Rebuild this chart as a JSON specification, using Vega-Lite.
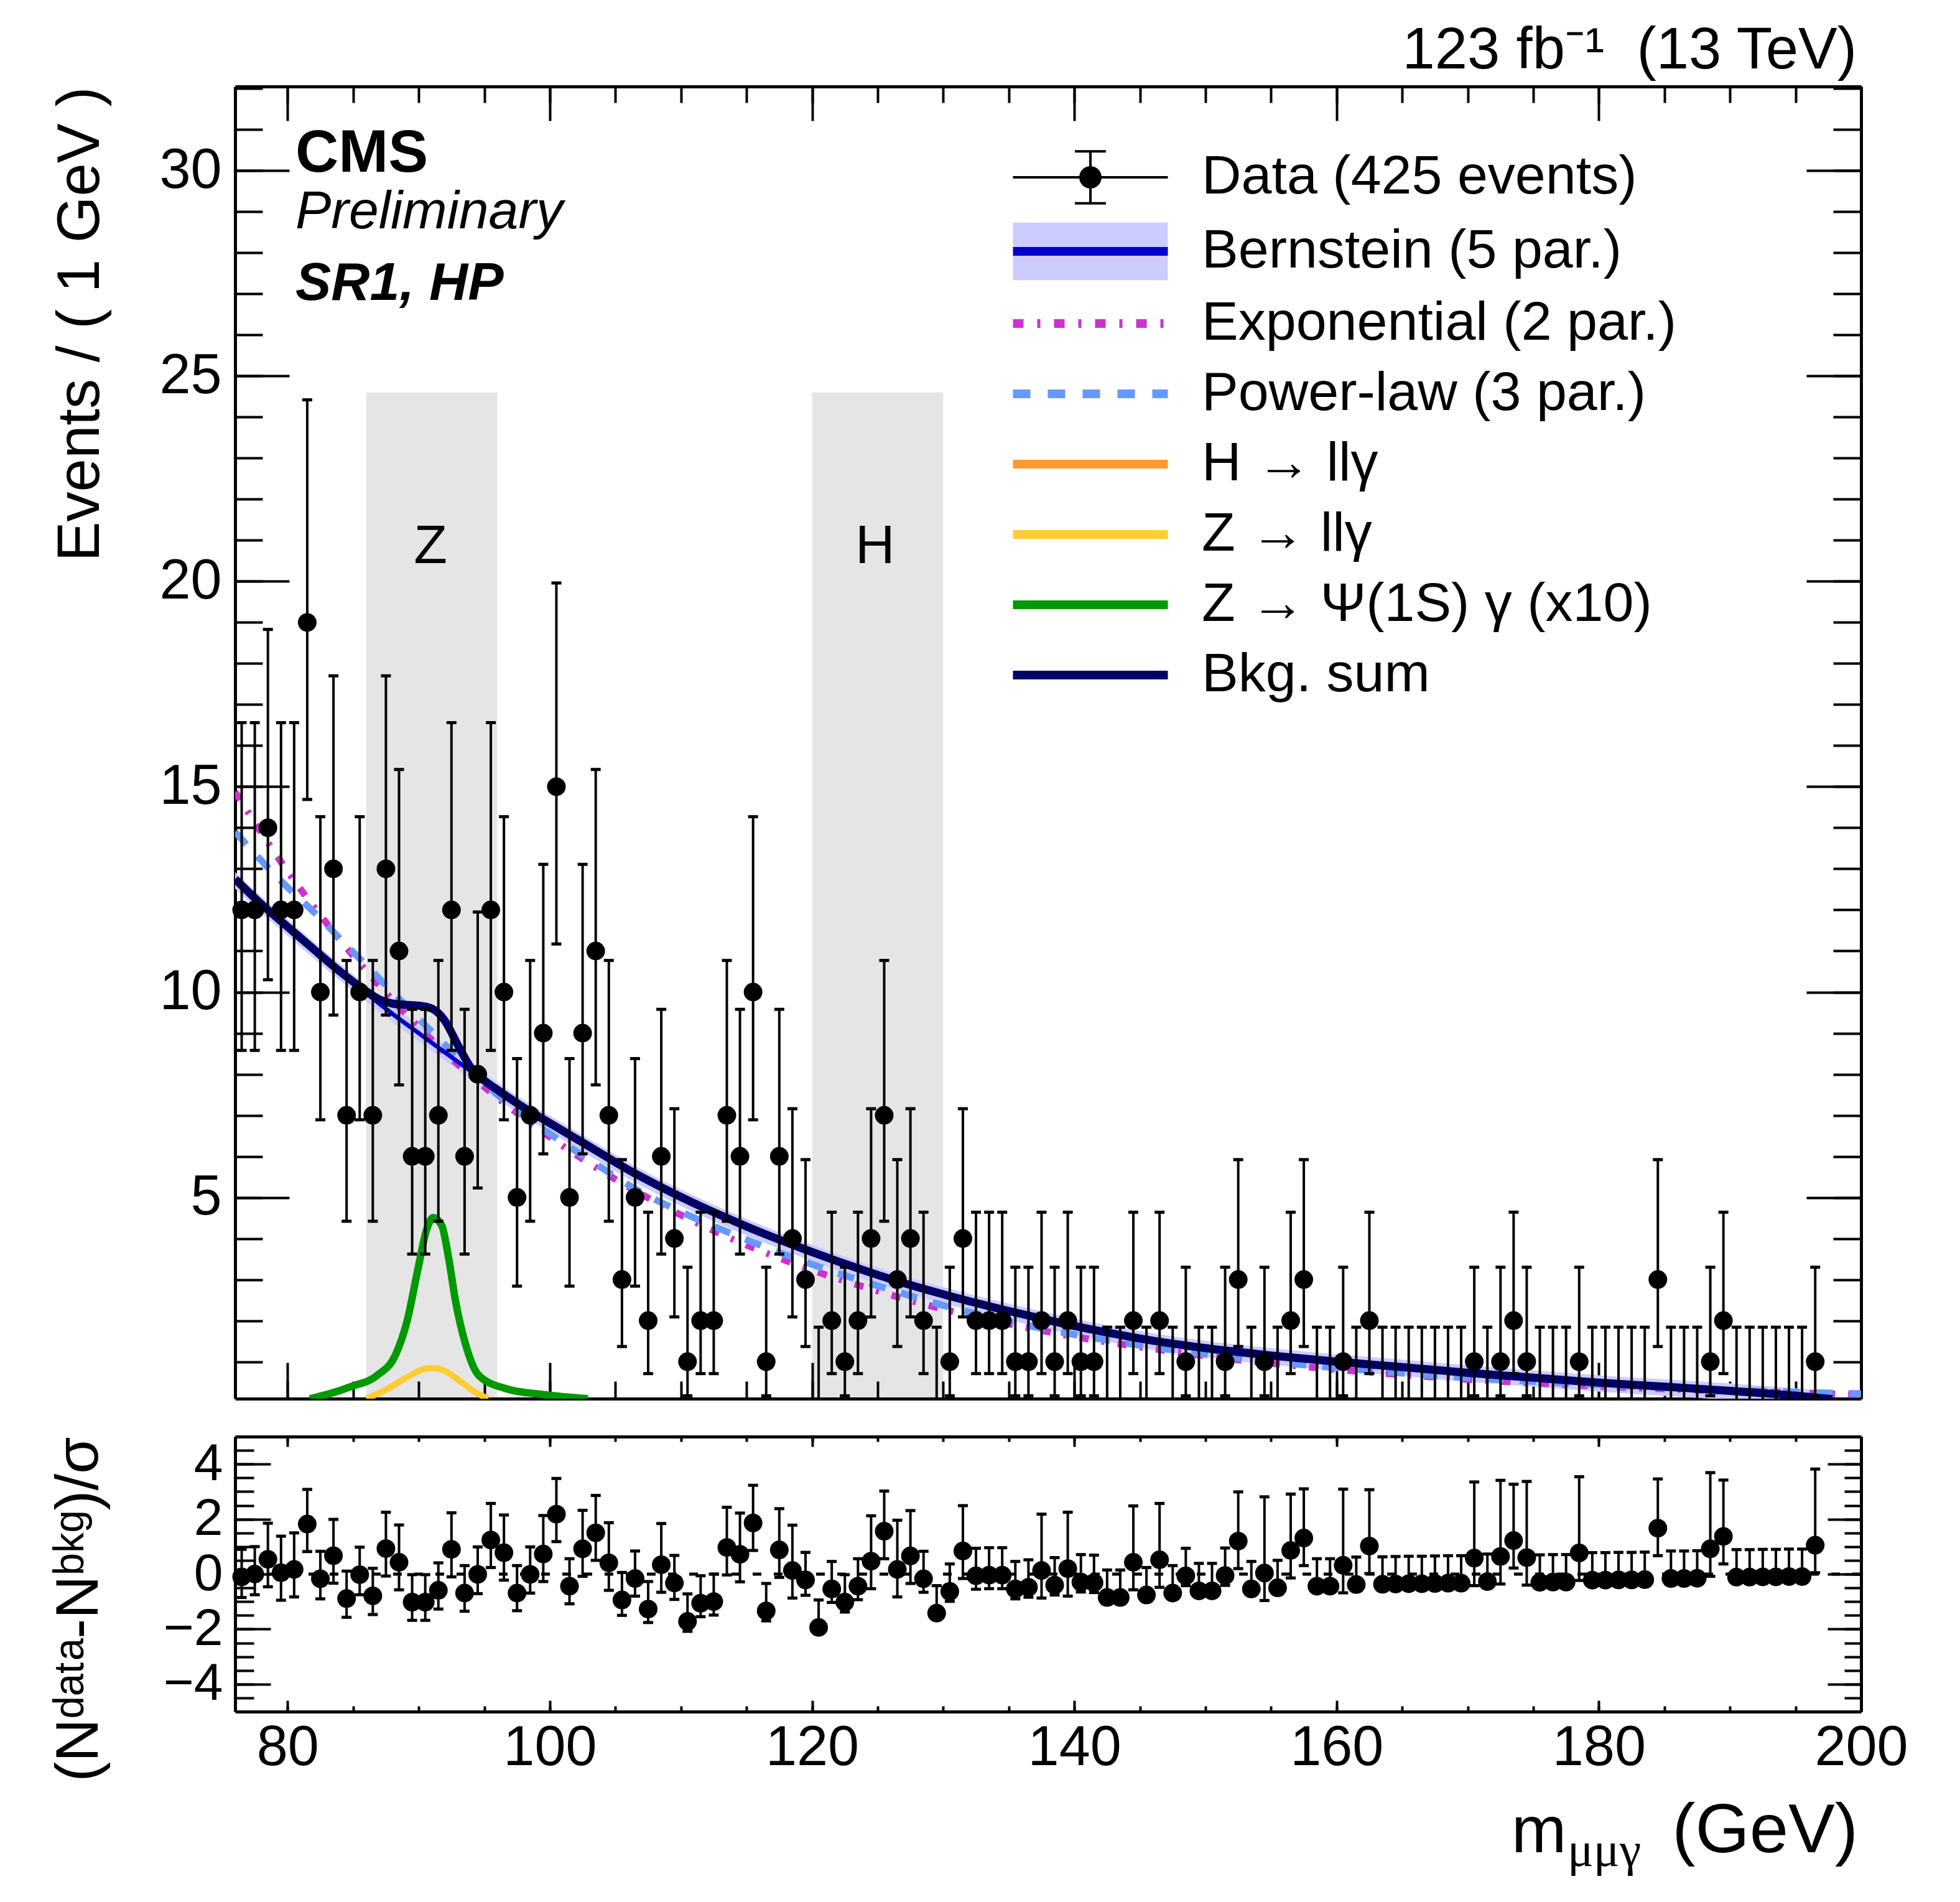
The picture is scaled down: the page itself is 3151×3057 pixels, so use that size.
{
  "$schema": "https://vega.github.io/schema/vega-lite/v6.json",
  "background": "white",
  "padding": {"left": 79, "top": 35, "right": 0, "bottom": 0},
  "autosize": {"type": "pad"},
  "spacing": 61,
  "bounds": "flush",
  "config": {
    "view": {"stroke": null},
    "axis": {"grid": false, "labelFont": "Liberation Sans", "titleFont": "Liberation Sans", "labelColor": "black", "titleColor": "black", "tickColor": "black", "domainColor": "black", "tickWidth": 4, "domainWidth": 5, "labelFontSize": 90, "titleFontSize": 96, "titleFontWeight": "normal", "labelFlush": false, "labelOverlap": false},
    "text": {"font": "Liberation Sans", "color": "black"}
  },
  "resolve": {"scale": {"color": "independent"}, "legend": {"color": "independent"}},
  "datasets": {
    "one": [{}],
    "windows": [
      {"x1": 86, "x2": 96, "xc": 90.9, "label": "Z"},
      {"x1": 120, "x2": 130, "xc": 124.8, "label": "H"}
    ],
    "bins": [
      {"x":76.5,"n":12,"lo":8.58,"hi":16.56,"p":-0.1,"plo":-0.85,"phi":0.9},
      {"x":77.5,"n":12,"lo":8.58,"hi":16.56,"p":0,"plo":-0.75,"phi":1},
      {"x":78.5,"n":14,"lo":10.3,"hi":18.83,"p":0.54,"plo":-0.46,"phi":1.85},
      {"x":79.5,"n":12,"lo":8.58,"hi":16.56,"p":0.05,"plo":-0.95,"phi":1.38},
      {"x":80.5,"n":12,"lo":8.58,"hi":16.56,"p":0.17,"plo":-0.83,"phi":1.5},
      {"x":81.5,"n":19,"lo":14.69,"hi":24.42,"p":1.82,"plo":0.82,"phi":3.08},
      {"x":82.5,"n":10,"lo":6.89,"hi":14.27,"p":-0.17,"plo":-0.9,"phi":0.83},
      {"x":83.5,"n":13,"lo":9.44,"hi":17.7,"p":0.67,"plo":-0.33,"phi":1.99},
      {"x":84.5,"n":7,"lo":4.42,"hi":10.77,"p":-0.89,"plo":-1.57,"phi":0.11},
      {"x":85.5,"n":10,"lo":6.89,"hi":14.27,"p":-0.02,"plo":-0.75,"phi":0.98},
      {"x":86.5,"n":7,"lo":4.42,"hi":10.77,"p":-0.79,"plo":-1.47,"phi":0.21},
      {"x":87.5,"n":13,"lo":9.44,"hi":17.7,"p":0.93,"plo":-0.07,"phi":2.25},
      {"x":88.5,"n":11,"lo":7.74,"hi":15.42,"p":0.43,"plo":-0.57,"phi":1.79},
      {"x":89.5,"n":6,"lo":3.62,"hi":9.58,"p":-1.02,"plo":-1.68,"phi":-0.02},
      {"x":90.5,"n":6,"lo":3.62,"hi":9.58,"p":-1.02,"plo":-1.68,"phi":-0.02},
      {"x":91.5,"n":7,"lo":4.42,"hi":10.77,"p":-0.59,"plo":-1.27,"phi":0.41},
      {"x":92.5,"n":12,"lo":8.58,"hi":16.56,"p":0.9,"plo":-0.1,"phi":2.23},
      {"x":93.5,"n":6,"lo":3.62,"hi":9.58,"p":-0.69,"plo":-1.35,"phi":0.31},
      {"x":94.5,"n":8,"lo":5.23,"hi":11.95,"p":-0.01,"plo":-0.71,"phi":0.99},
      {"x":95.5,"n":12,"lo":8.58,"hi":16.56,"p":1.24,"plo":0.24,"phi":2.57},
      {"x":96.5,"n":10,"lo":6.89,"hi":14.27,"p":0.78,"plo":-0.22,"phi":2.15},
      {"x":97.5,"n":5,"lo":2.84,"hi":8.38,"p":-0.69,"plo":-1.33,"phi":0.31},
      {"x":98.5,"n":7,"lo":4.42,"hi":10.77,"p":-0.01,"plo":-0.69,"phi":0.99},
      {"x":99.5,"n":9,"lo":6.06,"hi":13.11,"p":0.73,"plo":-0.27,"phi":2.13},
      {"x":100.5,"n":15,"lo":11.17,"hi":19.96,"p":2.18,"plo":1.18,"phi":3.48},
      {"x":101.5,"n":5,"lo":2.84,"hi":8.38,"p":-0.44,"plo":-1.08,"phi":0.56},
      {"x":102.5,"n":9,"lo":6.06,"hi":13.11,"p":0.92,"plo":-0.08,"phi":2.32},
      {"x":103.5,"n":11,"lo":7.74,"hi":15.42,"p":1.5,"plo":0.5,"phi":2.86},
      {"x":104.5,"n":7,"lo":4.42,"hi":10.77,"p":0.41,"plo":-0.59,"phi":1.87},
      {"x":105.5,"n":3,"lo":1.37,"hi":5.92,"p":-0.94,"plo":-1.5,"phi":0.06},
      {"x":106.5,"n":5,"lo":2.84,"hi":8.38,"p":-0.16,"plo":-0.8,"phi":0.84},
      {"x":107.5,"n":2,"lo":0.71,"hi":4.64,"p":-1.27,"plo":-1.76,"phi":-0.27},
      {"x":108.5,"n":6,"lo":3.62,"hi":9.58,"p":0.34,"plo":-0.66,"phi":1.84},
      {"x":109.5,"n":4,"lo":2.09,"hi":7.16,"p":-0.32,"plo":-0.92,"phi":0.68},
      {"x":110.5,"n":1,"lo":0.17,"hi":3.3,"p":-1.72,"plo":-2.08,"phi":-0.72},
      {"x":111.5,"n":2,"lo":0.71,"hi":4.64,"p":-1.06,"plo":-1.55,"phi":-0.06},
      {"x":112.5,"n":2,"lo":0.71,"hi":4.64,"p":-1,"plo":-1.49,"phi":0},
      {"x":113.5,"n":7,"lo":4.42,"hi":10.77,"p":0.97,"plo":-0.03,"phi":2.43},
      {"x":114.5,"n":6,"lo":3.62,"hi":9.58,"p":0.72,"plo":-0.28,"phi":2.22},
      {"x":115.5,"n":10,"lo":6.89,"hi":14.27,"p":1.86,"plo":0.86,"phi":3.23},
      {"x":116.5,"n":1,"lo":0.17,"hi":3.3,"p":-1.34,"plo":-1.7,"phi":-0.34},
      {"x":117.5,"n":6,"lo":3.62,"hi":9.58,"p":0.88,"plo":-0.12,"phi":2.38},
      {"x":118.5,"n":4,"lo":2.09,"hi":7.16,"p":0.13,"plo":-0.87,"phi":1.78},
      {"x":119.5,"n":3,"lo":1.37,"hi":5.92,"p":-0.21,"plo":-0.77,"phi":0.79},
      {"x":120.5,"n":0,"lo":0,"hi":1.84,"p":-1.94,"plo":-1.94,"phi":-0.94},
      {"x":121.5,"n":2,"lo":0.71,"hi":4.64,"p":-0.54,"plo":-1.03,"phi":0.46},
      {"x":122.5,"n":1,"lo":0.17,"hi":3.3,"p":-1.02,"plo":-1.38,"phi":-0.02},
      {"x":123.5,"n":2,"lo":0.71,"hi":4.64,"p":-0.44,"plo":-0.93,"phi":0.56},
      {"x":124.5,"n":4,"lo":2.09,"hi":7.16,"p":0.47,"plo":-0.53,"phi":2.12},
      {"x":125.5,"n":7,"lo":4.42,"hi":10.77,"p":1.56,"plo":0.56,"phi":3.02},
      {"x":126.5,"n":3,"lo":1.37,"hi":5.92,"p":0.17,"plo":-0.83,"phi":1.96},
      {"x":127.5,"n":4,"lo":2.09,"hi":7.16,"p":0.66,"plo":-0.34,"phi":2.31},
      {"x":128.5,"n":2,"lo":0.71,"hi":4.64,"p":-0.17,"plo":-0.66,"phi":0.83},
      {"x":129.5,"n":0,"lo":0,"hi":1.84,"p":-1.42,"plo":-1.42,"phi":-0.42},
      {"x":130.5,"n":1,"lo":0.17,"hi":3.3,"p":-0.63,"plo":-0.99,"phi":0.37},
      {"x":131.5,"n":4,"lo":2.09,"hi":7.16,"p":0.84,"plo":-0.16,"phi":2.49},
      {"x":132.5,"n":2,"lo":0.71,"hi":4.64,"p":-0.06,"plo":-0.55,"phi":0.94},
      {"x":133.5,"n":2,"lo":0.71,"hi":4.64,"p":-0.04,"plo":-0.53,"phi":0.96},
      {"x":134.5,"n":2,"lo":0.71,"hi":4.64,"p":-0.04,"plo":-0.53,"phi":0.96},
      {"x":135.5,"n":1,"lo":0.17,"hi":3.3,"p":-0.54,"plo":-0.9,"phi":0.46},
      {"x":136.5,"n":1,"lo":0.17,"hi":3.3,"p":-0.48,"plo":-0.84,"phi":0.52},
      {"x":137.5,"n":2,"lo":0.71,"hi":4.64,"p":0.13,"plo":-0.87,"phi":2.18},
      {"x":138.5,"n":1,"lo":0.17,"hi":3.3,"p":-0.4,"plo":-0.76,"phi":0.6},
      {"x":139.5,"n":2,"lo":0.71,"hi":4.64,"p":0.2,"plo":-0.8,"phi":2.25},
      {"x":140.5,"n":1,"lo":0.17,"hi":3.3,"p":-0.29,"plo":-0.65,"phi":0.71},
      {"x":141.5,"n":1,"lo":0.17,"hi":3.3,"p":-0.31,"plo":-0.67,"phi":0.69},
      {"x":142.5,"n":0,"lo":0,"hi":1.84,"p":-0.85,"plo":-0.85,"phi":0.15},
      {"x":143.5,"n":0,"lo":0,"hi":1.84,"p":-0.85,"plo":-0.85,"phi":0.15},
      {"x":144.5,"n":2,"lo":0.71,"hi":4.64,"p":0.43,"plo":-0.57,"phi":2.48},
      {"x":145.5,"n":0,"lo":0,"hi":1.84,"p":-0.76,"plo":-0.76,"phi":0.24},
      {"x":146.5,"n":2,"lo":0.71,"hi":4.64,"p":0.52,"plo":-0.48,"phi":2.57},
      {"x":147.5,"n":0,"lo":0,"hi":1.84,"p":-0.69,"plo":-0.69,"phi":0.31},
      {"x":148.5,"n":1,"lo":0.17,"hi":3.3,"p":-0.06,"plo":-0.42,"phi":0.94},
      {"x":149.5,"n":0,"lo":0,"hi":1.84,"p":-0.61,"plo":-0.61,"phi":0.39},
      {"x":150.5,"n":0,"lo":0,"hi":1.84,"p":-0.61,"plo":-0.61,"phi":0.39},
      {"x":151.5,"n":1,"lo":0.17,"hi":3.3,"p":-0.05,"plo":-0.41,"phi":0.95},
      {"x":152.5,"n":3,"lo":1.37,"hi":5.92,"p":1.2,"plo":0.2,"phi":2.99},
      {"x":153.5,"n":0,"lo":0,"hi":1.84,"p":-0.54,"plo":-0.54,"phi":0.46},
      {"x":154.5,"n":1,"lo":0.17,"hi":3.3,"p":0.04,"plo":-0.96,"phi":2.81},
      {"x":155.5,"n":0,"lo":0,"hi":1.84,"p":-0.5,"plo":-0.5,"phi":0.5},
      {"x":156.5,"n":2,"lo":0.71,"hi":4.64,"p":0.86,"plo":-0.14,"phi":2.91},
      {"x":157.5,"n":3,"lo":1.37,"hi":5.92,"p":1.31,"plo":0.31,"phi":3.1},
      {"x":158.5,"n":0,"lo":0,"hi":1.84,"p":-0.44,"plo":-0.44,"phi":0.56},
      {"x":159.5,"n":0,"lo":0,"hi":1.84,"p":-0.44,"plo":-0.44,"phi":0.56},
      {"x":160.5,"n":1,"lo":0.17,"hi":3.3,"p":0.32,"plo":-0.68,"phi":3.09},
      {"x":161.5,"n":0,"lo":0,"hi":1.84,"p":-0.38,"plo":-0.38,"phi":0.62},
      {"x":162.5,"n":2,"lo":0.71,"hi":4.64,"p":1.02,"plo":0.02,"phi":3.07},
      {"x":163.5,"n":0,"lo":0,"hi":1.84,"p":-0.37,"plo":-0.37,"phi":0.63},
      {"x":164.5,"n":0,"lo":0,"hi":1.84,"p":-0.36,"plo":-0.36,"phi":0.64},
      {"x":165.5,"n":0,"lo":0,"hi":1.84,"p":-0.35,"plo":-0.35,"phi":0.65},
      {"x":166.5,"n":0,"lo":0,"hi":1.84,"p":-0.35,"plo":-0.35,"phi":0.65},
      {"x":167.5,"n":0,"lo":0,"hi":1.84,"p":-0.34,"plo":-0.34,"phi":0.66},
      {"x":168.5,"n":0,"lo":0,"hi":1.84,"p":-0.33,"plo":-0.33,"phi":0.67},
      {"x":169.5,"n":0,"lo":0,"hi":1.84,"p":-0.33,"plo":-0.33,"phi":0.67},
      {"x":170.5,"n":1,"lo":0.17,"hi":3.3,"p":0.58,"plo":-0.42,"phi":3.35},
      {"x":171.5,"n":0,"lo":0,"hi":1.84,"p":-0.27,"plo":-0.27,"phi":0.73},
      {"x":172.5,"n":1,"lo":0.17,"hi":3.3,"p":0.64,"plo":-0.36,"phi":3.41},
      {"x":173.5,"n":2,"lo":0.71,"hi":4.64,"p":1.22,"plo":0.22,"phi":3.27},
      {"x":174.5,"n":1,"lo":0.17,"hi":3.3,"p":0.6,"plo":-0.4,"phi":3.37},
      {"x":175.5,"n":0,"lo":0,"hi":1.84,"p":-0.3,"plo":-0.3,"phi":0.7},
      {"x":176.5,"n":0,"lo":0,"hi":1.84,"p":-0.29,"plo":-0.29,"phi":0.71},
      {"x":177.5,"n":0,"lo":0,"hi":1.84,"p":-0.29,"plo":-0.29,"phi":0.71},
      {"x":178.5,"n":1,"lo":0.17,"hi":3.3,"p":0.77,"plo":-0.23,"phi":3.54},
      {"x":179.5,"n":0,"lo":0,"hi":1.84,"p":-0.22,"plo":-0.22,"phi":0.78},
      {"x":180.5,"n":0,"lo":0,"hi":1.84,"p":-0.22,"plo":-0.22,"phi":0.78},
      {"x":181.5,"n":0,"lo":0,"hi":1.84,"p":-0.21,"plo":-0.21,"phi":0.79},
      {"x":182.5,"n":0,"lo":0,"hi":1.84,"p":-0.21,"plo":-0.21,"phi":0.79},
      {"x":183.5,"n":0,"lo":0,"hi":1.84,"p":-0.2,"plo":-0.2,"phi":0.8},
      {"x":184.5,"n":3,"lo":1.37,"hi":5.92,"p":1.67,"plo":0.67,"phi":3.46},
      {"x":185.5,"n":0,"lo":0,"hi":1.84,"p":-0.16,"plo":-0.16,"phi":0.84},
      {"x":186.5,"n":0,"lo":0,"hi":1.84,"p":-0.16,"plo":-0.16,"phi":0.84},
      {"x":187.5,"n":0,"lo":0,"hi":1.84,"p":-0.15,"plo":-0.15,"phi":0.85},
      {"x":188.5,"n":1,"lo":0.17,"hi":3.3,"p":0.92,"plo":-0.08,"phi":3.69},
      {"x":189.5,"n":2,"lo":0.71,"hi":4.64,"p":1.37,"plo":0.37,"phi":3.42},
      {"x":190.5,"n":0,"lo":0,"hi":1.84,"p":-0.11,"plo":-0.11,"phi":0.89},
      {"x":191.5,"n":0,"lo":0,"hi":1.84,"p":-0.11,"plo":-0.11,"phi":0.89},
      {"x":192.5,"n":0,"lo":0,"hi":1.84,"p":-0.1,"plo":-0.1,"phi":0.9},
      {"x":193.5,"n":0,"lo":0,"hi":1.84,"p":-0.1,"plo":-0.1,"phi":0.9},
      {"x":194.5,"n":0,"lo":0,"hi":1.84,"p":-0.09,"plo":-0.09,"phi":0.91},
      {"x":195.5,"n":0,"lo":0,"hi":1.84,"p":-0.09,"plo":-0.09,"phi":0.91},
      {"x":196.5,"n":1,"lo":0.17,"hi":3.3,"p":1.05,"plo":0.05,"phi":3.82}
    ],
    "band": [
      {"x":76,"lo":12.52,"hi":12.92},{"x":78,"lo":11.92,"hi":12.32},{"x":80,"lo":11.37,"hi":11.77},{"x":82,"lo":10.82,"hi":11.22},
      {"x":84,"lo":10.28,"hi":10.68},{"x":86,"lo":9.77,"hi":10.17},{"x":88,"lo":9.27,"hi":9.67},{"x":90,"lo":8.8,"hi":9.2},
      {"x":92,"lo":8.33,"hi":8.73},{"x":94,"lo":7.87,"hi":8.27},{"x":96,"lo":7.4,"hi":7.8},{"x":98,"lo":6.97,"hi":7.37},
      {"x":100,"lo":6.59,"hi":6.99},{"x":102,"lo":6.21,"hi":6.61},{"x":104,"lo":5.83,"hi":6.23},{"x":106,"lo":5.45,"hi":5.85},
      {"x":108,"lo":5.11,"hi":5.51},{"x":110,"lo":4.79,"hi":5.19},{"x":112,"lo":4.49,"hi":4.89},{"x":114,"lo":4.21,"hi":4.61},
      {"x":116,"lo":3.94,"hi":4.34},{"x":118,"lo":3.69,"hi":4.09},{"x":120,"lo":3.45,"hi":3.85},{"x":122,"lo":3.22,"hi":3.62},
      {"x":124,"lo":3.0,"hi":3.4},{"x":126,"lo":2.79,"hi":3.19},{"x":128,"lo":2.6,"hi":3.0},{"x":130,"lo":2.42,"hi":2.82},
      {"x":132,"lo":2.25,"hi":2.65},{"x":134,"lo":2.09,"hi":2.49},{"x":136,"lo":1.94,"hi":2.34},{"x":138,"lo":1.79,"hi":2.19},
      {"x":140,"lo":1.65,"hi":2.05},{"x":143,"lo":1.46,"hi":1.86},{"x":146,"lo":1.29,"hi":1.69},{"x":150,"lo":1.11,"hi":1.51},
      {"x":155,"lo":0.93,"hi":1.33},{"x":160,"lo":0.78,"hi":1.18},{"x":165,"lo":0.65,"hi":1.05},{"x":170,"lo":0.51,"hi":0.91},
      {"x":175,"lo":0.39,"hi":0.79},{"x":180,"lo":0.27,"hi":0.67},{"x":185,"lo":0.17,"hi":0.57},{"x":190,"lo":0.07,"hi":0.47},
      {"x":194,"lo":0.0,"hi":0.38},{"x":197.8,"lo":0.0,"hi":0.27}
    ],
    "curves": [
      {"s":"Exponential (2 par.)","x":76,"y":14.87},{"s":"Exponential (2 par.)","x":80,"y":12.94},{"s":"Exponential (2 par.)","x":84,"y":11.27},
      {"s":"Exponential (2 par.)","x":88,"y":9.81},{"s":"Exponential (2 par.)","x":92,"y":8.53},{"s":"Exponential (2 par.)","x":96,"y":7.43},
      {"s":"Exponential (2 par.)","x":100,"y":6.47},{"s":"Exponential (2 par.)","x":105,"y":5.44},{"s":"Exponential (2 par.)","x":110,"y":4.57},
      {"s":"Exponential (2 par.)","x":115,"y":3.84},{"s":"Exponential (2 par.)","x":120,"y":3.23},{"s":"Exponential (2 par.)","x":125,"y":2.72},
      {"s":"Exponential (2 par.)","x":130,"y":2.28},{"s":"Exponential (2 par.)","x":135,"y":1.92},{"s":"Exponential (2 par.)","x":140,"y":1.61},
      {"s":"Exponential (2 par.)","x":145,"y":1.36},{"s":"Exponential (2 par.)","x":150,"y":1.14},{"s":"Exponential (2 par.)","x":155,"y":0.96},
      {"s":"Exponential (2 par.)","x":160,"y":0.81},{"s":"Exponential (2 par.)","x":165,"y":0.68},{"s":"Exponential (2 par.)","x":170,"y":0.57},
      {"s":"Exponential (2 par.)","x":175,"y":0.48},{"s":"Exponential (2 par.)","x":180,"y":0.4},{"s":"Exponential (2 par.)","x":185,"y":0.34},
      {"s":"Exponential (2 par.)","x":190,"y":0.285},{"s":"Exponential (2 par.)","x":195,"y":0.24},{"s":"Exponential (2 par.)","x":200,"y":0.2},
      {"s":"Power-law (3 par.)","x":76,"y":13.9},{"s":"Power-law (3 par.)","x":78,"y":13.2},{"s":"Power-law (3 par.)","x":80,"y":12.55},
      {"s":"Power-law (3 par.)","x":82,"y":11.95},{"s":"Power-law (3 par.)","x":84,"y":11.3},{"s":"Power-law (3 par.)","x":86,"y":10.65},
      {"s":"Power-law (3 par.)","x":88,"y":10.0},{"s":"Power-law (3 par.)","x":90,"y":9.35},{"s":"Power-law (3 par.)","x":92,"y":8.72},
      {"s":"Power-law (3 par.)","x":94,"y":8.1},{"s":"Power-law (3 par.)","x":96,"y":7.5},{"s":"Power-law (3 par.)","x":100,"y":6.55},
      {"s":"Power-law (3 par.)","x":103,"y":5.92},{"s":"Power-law (3 par.)","x":107,"y":5.12},{"s":"Power-law (3 par.)","x":110,"y":4.65},
      {"s":"Power-law (3 par.)","x":114,"y":4.1},{"s":"Power-law (3 par.)","x":118,"y":3.6},{"s":"Power-law (3 par.)","x":122,"y":3.15},
      {"s":"Power-law (3 par.)","x":126,"y":2.75},{"s":"Power-law (3 par.)","x":130,"y":2.37},{"s":"Power-law (3 par.)","x":135,"y":1.98},
      {"s":"Power-law (3 par.)","x":140,"y":1.66},{"s":"Power-law (3 par.)","x":145,"y":1.4},{"s":"Power-law (3 par.)","x":150,"y":1.18},
      {"s":"Power-law (3 par.)","x":155,"y":1.0},{"s":"Power-law (3 par.)","x":160,"y":0.85},{"s":"Power-law (3 par.)","x":165,"y":0.72},
      {"s":"Power-law (3 par.)","x":170,"y":0.61},{"s":"Power-law (3 par.)","x":175,"y":0.52},{"s":"Power-law (3 par.)","x":180,"y":0.44},
      {"s":"Power-law (3 par.)","x":185,"y":0.37},{"s":"Power-law (3 par.)","x":190,"y":0.31},{"s":"Power-law (3 par.)","x":195,"y":0.26},
      {"s":"Power-law (3 par.)","x":200,"y":0.22},
      {"s":"Bernstein (5 par.)","x":76,"y":12.72},{"s":"Bernstein (5 par.)","x":78,"y":12.12},{"s":"Bernstein (5 par.)","x":80,"y":11.57},
      {"s":"Bernstein (5 par.)","x":82,"y":11.02},{"s":"Bernstein (5 par.)","x":84,"y":10.48},{"s":"Bernstein (5 par.)","x":86,"y":9.97},
      {"s":"Bernstein (5 par.)","x":88,"y":9.47},{"s":"Bernstein (5 par.)","x":90,"y":9.0},{"s":"Bernstein (5 par.)","x":92,"y":8.53},
      {"s":"Bernstein (5 par.)","x":94,"y":8.07},{"s":"Bernstein (5 par.)","x":96,"y":7.6},{"s":"Bernstein (5 par.)","x":98,"y":7.17},
      {"s":"Bernstein (5 par.)","x":100,"y":6.79},{"s":"Bernstein (5 par.)","x":102,"y":6.41},{"s":"Bernstein (5 par.)","x":104,"y":6.03},
      {"s":"Bernstein (5 par.)","x":106,"y":5.65},{"s":"Bernstein (5 par.)","x":108,"y":5.31},{"s":"Bernstein (5 par.)","x":110,"y":4.99},
      {"s":"Bernstein (5 par.)","x":112,"y":4.69},{"s":"Bernstein (5 par.)","x":114,"y":4.41},{"s":"Bernstein (5 par.)","x":116,"y":4.14},
      {"s":"Bernstein (5 par.)","x":118,"y":3.89},{"s":"Bernstein (5 par.)","x":120,"y":3.65},{"s":"Bernstein (5 par.)","x":122,"y":3.42},
      {"s":"Bernstein (5 par.)","x":124,"y":3.2},{"s":"Bernstein (5 par.)","x":126,"y":2.99},{"s":"Bernstein (5 par.)","x":128,"y":2.8},
      {"s":"Bernstein (5 par.)","x":130,"y":2.62},{"s":"Bernstein (5 par.)","x":132,"y":2.45},{"s":"Bernstein (5 par.)","x":134,"y":2.29},
      {"s":"Bernstein (5 par.)","x":136,"y":2.14},{"s":"Bernstein (5 par.)","x":138,"y":1.99},{"s":"Bernstein (5 par.)","x":140,"y":1.85},
      {"s":"Bernstein (5 par.)","x":143,"y":1.66},{"s":"Bernstein (5 par.)","x":146,"y":1.49},{"s":"Bernstein (5 par.)","x":150,"y":1.31},
      {"s":"Bernstein (5 par.)","x":155,"y":1.13},{"s":"Bernstein (5 par.)","x":160,"y":0.98},{"s":"Bernstein (5 par.)","x":165,"y":0.85},
      {"s":"Bernstein (5 par.)","x":170,"y":0.71},{"s":"Bernstein (5 par.)","x":175,"y":0.59},{"s":"Bernstein (5 par.)","x":180,"y":0.47},
      {"s":"Bernstein (5 par.)","x":185,"y":0.37},{"s":"Bernstein (5 par.)","x":190,"y":0.27},{"s":"Bernstein (5 par.)","x":194,"y":0.18},
      {"s":"Bernstein (5 par.)","x":197.8,"y":0.07},
      {"s":"Z → llγ","x":86,"y":0.1},{"s":"Z → llγ","x":87.4,"y":0.3},{"s":"Z → llγ","x":89.1,"y":0.62},{"s":"Z → llγ","x":90.2,"y":0.8},
      {"s":"Z → llγ","x":91,"y":0.85},{"s":"Z → llγ","x":92.1,"y":0.76},{"s":"Z → llγ","x":93.1,"y":0.54},{"s":"Z → llγ","x":94.2,"y":0.28},
      {"s":"Z → llγ","x":95.3,"y":0.1},
      {"s":"Z → Ψ(1S) γ (x10)","x":81.7,"y":0.1},{"s":"Z → Ψ(1S) γ (x10)","x":83,"y":0.2},{"s":"Z → Ψ(1S) γ (x10)","x":84.9,"y":0.4},
      {"s":"Z → Ψ(1S) γ (x10)","x":86.8,"y":0.66},{"s":"Z → Ψ(1S) γ (x10)","x":88.25,"y":1.18},{"s":"Z → Ψ(1S) γ (x10)","x":89.1,"y":1.97},
      {"s":"Z → Ψ(1S) γ (x10)","x":89.95,"y":3.27},{"s":"Z → Ψ(1S) γ (x10)","x":90.58,"y":4.19},{"s":"Z → Ψ(1S) γ (x10)","x":91.1,"y":4.51},
      {"s":"Z → Ψ(1S) γ (x10)","x":91.75,"y":4.32},{"s":"Z → Ψ(1S) γ (x10)","x":92.28,"y":3.53},{"s":"Z → Ψ(1S) γ (x10)","x":92.8,"y":2.49},
      {"s":"Z → Ψ(1S) γ (x10)","x":93.55,"y":1.45},{"s":"Z → Ψ(1S) γ (x10)","x":94.6,"y":0.66},{"s":"Z → Ψ(1S) γ (x10)","x":96.7,"y":0.34},
      {"s":"Z → Ψ(1S) γ (x10)","x":99.5,"y":0.2},{"s":"Z → Ψ(1S) γ (x10)","x":102.9,"y":0.1},
      {"s":"Bkg. sum","x":76,"y":12.75},{"s":"Bkg. sum","x":78,"y":12.14},{"s":"Bkg. sum","x":80,"y":11.59},{"s":"Bkg. sum","x":82,"y":11.04},
      {"s":"Bkg. sum","x":84,"y":10.5},{"s":"Bkg. sum","x":86,"y":10.02},{"s":"Bkg. sum","x":87,"y":9.82},{"s":"Bkg. sum","x":88,"y":9.72},
      {"s":"Bkg. sum","x":89,"y":9.69},{"s":"Bkg. sum","x":90,"y":9.67},{"s":"Bkg. sum","x":91,"y":9.6},{"s":"Bkg. sum","x":92,"y":9.3},
      {"s":"Bkg. sum","x":93,"y":8.7},{"s":"Bkg. sum","x":94,"y":8.15},{"s":"Bkg. sum","x":95,"y":7.85},{"s":"Bkg. sum","x":96,"y":7.62},
      {"s":"Bkg. sum","x":98,"y":7.19},{"s":"Bkg. sum","x":100,"y":6.81},{"s":"Bkg. sum","x":102,"y":6.43},{"s":"Bkg. sum","x":104,"y":6.05},
      {"s":"Bkg. sum","x":106,"y":5.67},{"s":"Bkg. sum","x":108,"y":5.33},{"s":"Bkg. sum","x":110,"y":5.01},{"s":"Bkg. sum","x":112,"y":4.71},
      {"s":"Bkg. sum","x":114,"y":4.43},{"s":"Bkg. sum","x":116,"y":4.16},{"s":"Bkg. sum","x":118,"y":3.91},{"s":"Bkg. sum","x":120,"y":3.67},
      {"s":"Bkg. sum","x":122,"y":3.44},{"s":"Bkg. sum","x":124,"y":3.22},{"s":"Bkg. sum","x":126,"y":3.01},{"s":"Bkg. sum","x":128,"y":2.82},
      {"s":"Bkg. sum","x":130,"y":2.64},{"s":"Bkg. sum","x":132,"y":2.47},{"s":"Bkg. sum","x":134,"y":2.31},{"s":"Bkg. sum","x":136,"y":2.16},
      {"s":"Bkg. sum","x":138,"y":2.01},{"s":"Bkg. sum","x":140,"y":1.87},{"s":"Bkg. sum","x":143,"y":1.68},{"s":"Bkg. sum","x":146,"y":1.51},
      {"s":"Bkg. sum","x":150,"y":1.33},{"s":"Bkg. sum","x":155,"y":1.15},{"s":"Bkg. sum","x":160,"y":1.0},{"s":"Bkg. sum","x":165,"y":0.87},
      {"s":"Bkg. sum","x":170,"y":0.73},{"s":"Bkg. sum","x":175,"y":0.61},{"s":"Bkg. sum","x":180,"y":0.49},{"s":"Bkg. sum","x":185,"y":0.39},
      {"s":"Bkg. sum","x":190,"y":0.29},{"s":"Bkg. sum","x":194,"y":0.2},{"s":"Bkg. sum","x":197.8,"y":0.09}
    ]
  },
  "vconcat": [
    {
      "width": 2614,
      "height": 2109,
      "resolve": {"axis": {"x": "independent", "y": "independent"}},
      "layer": [
        {
          "data": {"name": "windows"},
          "mark": {"type": "rect", "fill": "#000000", "fillOpacity": 0.1},
          "encoding": {
            "x": {"field": "x1", "type": "quantitative", "scale": {"domain": [76, 200], "nice": false, "zero": false},
                  "axis": {"orient": "bottom", "labels": false, "ticks": false, "domain": true, "title": null}},
            "x2": {"field": "x2"},
            "y": {"datum": 24.6, "type": "quantitative", "scale": {"domain": [0.1, 32.05], "nice": false, "zero": false},
                  "axis": {"orient": "left", "values": [5, 10, 15, 20, 25, 30], "ticks": false, "domain": true, "labelPadding": 22,
                           "title": "Events / ( 1 GeV )", "titleAnchor": "end", "titlePadding": 77}},
            "y2": {"datum": 0.1}
          }
        },
        {
          "data": {"name": "windows"},
          "mark": {"type": "text", "fontSize": 88, "align": "center", "baseline": "alphabetic"},
          "encoding": {
            "x": {"field": "xc", "type": "quantitative", "scale": {"domain": [76, 200], "nice": false, "zero": false},
                  "axis": {"orient": "bottom", "values": [80, 100, 120, 140, 160, 180, 200], "labels": false, "domain": false, "tickSize": 58, "offset": -58, "title": null}},
            "y": {"datum": 20.44, "type": "quantitative", "scale": {"domain": [0.1, 32.05], "nice": false, "zero": false},
                  "axis": {"orient": "left", "values": [5, 10, 15, 20, 25, 30], "labels": false, "domain": false, "tickSize": 87, "offset": -87, "title": null}},
            "text": {"field": "label"}
          }
        },
        {
          "data": {"name": "band"},
          "mark": {"type": "area", "color": "#ccccff", "opacity": 1, "interpolate": "monotone", "clip": true},
          "encoding": {
            "x": {"field": "x", "type": "quantitative", "scale": {"domain": [76, 200], "nice": false, "zero": false},
                  "axis": {"orient": "bottom", "values": [80,85,90,95,100,105,110,115,120,125,130,135,140,145,150,155,160,165,170,175,180,185,190,195,200], "labels": false, "domain": false, "tickSize": 28, "offset": -28, "title": null}},
            "y": {"field": "lo", "type": "quantitative", "scale": {"domain": [0.1, 32.05], "nice": false, "zero": false},
                  "axis": {"orient": "left", "values": [1,2,3,4,5,6,7,8,9,10,11,12,13,14,15,16,17,18,19,20,21,22,23,24,25,26,27,28,29,30,31,32], "labels": false, "domain": false, "tickSize": 44, "offset": -44, "title": null}},
            "y2": {"field": "hi"}
          }
        },
        {
          "data": {"name": "curves"},
          "transform": [{"filter": "datum.s === 'Exponential (2 par.)'"}],
          "mark": {"type": "line", "color": "#cc33cc", "strokeWidth": 11, "strokeDash": [15, 21, 5, 21], "interpolate": "monotone", "clip": true},
          "encoding": {
            "x": {"field": "x", "type": "quantitative", "scale": {"domain": [76, 200], "nice": false, "zero": false},
                  "axis": {"orient": "top", "labels": false, "ticks": false, "domain": true, "title": null}},
            "y": {"field": "y", "type": "quantitative", "scale": {"domain": [0.1, 32.05], "nice": false, "zero": false},
                  "axis": {"orient": "right", "labels": false, "ticks": false, "domain": true, "title": null}}
          }
        },
        {
          "data": {"name": "curves"},
          "transform": [{"filter": "datum.s === 'Power-law (3 par.)'"}],
          "mark": {"type": "line", "color": "#6699ff", "strokeWidth": 11, "strokeDash": [27, 26], "interpolate": "monotone", "clip": true},
          "encoding": {
            "x": {"field": "x", "type": "quantitative", "scale": {"domain": [76, 200], "nice": false, "zero": false},
                  "axis": {"orient": "top", "values": [80, 100, 120, 140, 160, 180, 200], "labels": false, "domain": false, "tickSize": 55, "offset": -55, "title": null}},
            "y": {"field": "y", "type": "quantitative", "scale": {"domain": [0.1, 32.05], "nice": false, "zero": false},
                  "axis": {"orient": "right", "values": [5, 10, 15, 20, 25, 30], "labels": false, "domain": false, "tickSize": 88, "offset": -88, "title": null}}
          }
        },
        {
          "data": {"name": "curves"},
          "transform": [{"filter": "datum.s === 'Bernstein (5 par.)'"}],
          "mark": {"type": "line", "color": "#0000cc", "strokeWidth": 7, "interpolate": "monotone", "clip": true},
          "encoding": {
            "x": {"field": "x", "type": "quantitative", "scale": {"domain": [76, 200], "nice": false, "zero": false},
                  "axis": {"orient": "top", "values": [80,85,90,95,100,105,110,115,120,125,130,135,140,145,150,155,160,165,170,175,180,185,190,195,200], "labels": false, "domain": false, "tickSize": 26, "offset": -26, "title": null}},
            "y": {"field": "y", "type": "quantitative", "scale": {"domain": [0.1, 32.05], "nice": false, "zero": false},
                  "axis": {"orient": "right", "values": [1,2,3,4,5,6,7,8,9,10,11,12,13,14,15,16,17,18,19,20,21,22,23,24,25,26,27,28,29,30,31,32], "labels": false, "domain": false, "tickSize": 45, "offset": -45, "title": null}}
          }
        },
        {
          "data": {"name": "curves"},
          "transform": [{"filter": "datum.s === 'Z → llγ'"}],
          "mark": {"type": "line", "color": "#ffcc33", "strokeWidth": 10, "interpolate": "monotone", "clip": true},
          "encoding": {
            "x": {"field": "x", "type": "quantitative", "scale": {"domain": [76, 200], "nice": false, "zero": false}, "axis": null},
            "y": {"field": "y", "type": "quantitative", "scale": {"domain": [0.1, 32.05], "nice": false, "zero": false}, "axis": null}
          }
        },
        {
          "data": {"name": "curves"},
          "transform": [{"filter": "datum.s === 'Z → Ψ(1S) γ (x10)'"}],
          "mark": {"type": "line", "color": "#009900", "strokeWidth": 12, "interpolate": "monotone", "clip": true},
          "encoding": {
            "x": {"field": "x", "type": "quantitative", "scale": {"domain": [76, 200], "nice": false, "zero": false}, "axis": null},
            "y": {"field": "y", "type": "quantitative", "scale": {"domain": [0.1, 32.05], "nice": false, "zero": false}, "axis": null}
          }
        },
        {
          "data": {"name": "curves"},
          "transform": [{"filter": "datum.s === 'Bkg. sum'"}],
          "mark": {"type": "line", "strokeWidth": 13, "interpolate": "monotone", "clip": true},
          "encoding": {
            "x": {"field": "x", "type": "quantitative", "scale": {"domain": [76, 200], "nice": false, "zero": false}, "axis": null},
            "y": {"field": "y", "type": "quantitative", "scale": {"domain": [0.1, 32.05], "nice": false, "zero": false}, "axis": null},
            "color": {
              "field": "s", "type": "nominal",
              "scale": {
                "domain": ["Data (425 events)", "Bernstein (5 par.)", "Exponential (2 par.)", "Power-law (3 par.)", "H → llγ", "Z → llγ", "Z → Ψ(1S) γ (x10)", "Bkg. sum"],
                "range": ["#000000", "#0000cc", "#cc33cc", "#6699ff", "#ff9933", "#ffcc33", "#009900", "#000066"]
              },
              "legend": {
                "orient": "none", "legendX": 1318, "legendY": 89, "title": null, "columns": 1, "padding": 0, "rowPadding": 12,
                "symbolSize": 9920, "symbolOffset": 0, "symbolStrokeWidth": 14, "labelOffset": 122,
                "labelFont": "Liberation Sans", "labelFontSize": 88, "labelColor": "black", "labelLimit": 3000,
                "encode": {
                  "symbols": {
                    "update": {
                      "shape": {"signal": "datum.value === 'Data (425 events)' ? 'M-2.5,0H2.5M0,-0.84V0.84M-0.5,-0.84H0.5M-0.5,0.84H0.5M0.32,0A0.32,0.32,0,1,1,-0.32,0A0.32,0.32,0,1,1,0.32,0Z' : datum.value === 'Bernstein (5 par.)' ? 'M-2.5,-0.93H2.5V0.93H-2.5Z' : 'M-2.5,0H2.5'"},
                      "fill": {"signal": "datum.value === 'Data (425 events)' ? 'black' : datum.value === 'Bernstein (5 par.)' ? {gradient: 'linear', x1: 0, y1: 0, x2: 0, y2: 1, stops: [{offset: 0, color: '#ccccff'}, {offset: 0.425, color: '#ccccff'}, {offset: 0.425, color: '#0000cc'}, {offset: 0.575, color: '#0000cc'}, {offset: 0.575, color: '#ccccff'}, {offset: 1, color: '#ccccff'}]} : 'transparent'"},
                      "stroke": {"signal": "datum.value === 'Data (425 events)' ? 'black' : datum.value === 'Bernstein (5 par.)' ? 'transparent' : datum.value === 'Exponential (2 par.)' ? '#cc33cc' : datum.value === 'Power-law (3 par.)' ? '#6699ff' : datum.value === 'H → llγ' ? '#ff9933' : datum.value === 'Z → llγ' ? '#ffcc33' : datum.value === 'Z → Ψ(1S) γ (x10)' ? '#009900' : '#000066'"},
                      "strokeWidth": {"signal": "(datum.value === 'Data (425 events)' ? 4 : datum.value === 'Bernstein (5 par.)' ? 0 : 14)"},
                      "strokeDash": {"signal": "datum.value === 'Exponential (2 par.)' ? [17, 22, 5, 22] : datum.value === 'Power-law (3 par.)' ? [28, 28] : [1, 0]"},
                      "opacity": {"value": 1}
                    }
                  }
                }
              }
            }
          }
        },
        {
          "data": {"name": "bins"},
          "mark": {"type": "rule", "color": "black", "strokeWidth": 4, "clip": true},
          "encoding": {
            "x": {"field": "x", "type": "quantitative", "scale": {"domain": [76, 200], "nice": false, "zero": false}, "axis": null},
            "y": {"field": "lo", "type": "quantitative", "scale": {"domain": [0.1, 32.05], "nice": false, "zero": false}, "axis": null},
            "y2": {"field": "hi"}
          }
        },
        {
          "data": {"name": "bins"},
          "transform": [{"filter": "datum.n > 0"}],
          "mark": {"type": "tick", "orient": "horizontal", "color": "black", "size": 16, "thickness": 5, "opacity": 1},
          "encoding": {
            "x": {"field": "x", "type": "quantitative", "scale": {"domain": [76, 200], "nice": false, "zero": false}, "axis": null},
            "y": {"field": "lo", "type": "quantitative", "scale": {"domain": [0.1, 32.05], "nice": false, "zero": false}, "axis": null}
          }
        },
        {
          "data": {"name": "bins"},
          "mark": {"type": "tick", "orient": "horizontal", "color": "black", "size": 16, "thickness": 5, "opacity": 1},
          "encoding": {
            "x": {"field": "x", "type": "quantitative", "scale": {"domain": [76, 200], "nice": false, "zero": false}, "axis": null},
            "y": {"field": "hi", "type": "quantitative", "scale": {"domain": [0.1, 32.05], "nice": false, "zero": false}, "axis": null}
          }
        },
        {
          "data": {"name": "bins"},
          "transform": [{"filter": "datum.n > 0"}],
          "mark": {"type": "circle", "color": "black", "size": 900, "opacity": 1},
          "encoding": {
            "x": {"field": "x", "type": "quantitative", "scale": {"domain": [76, 200], "nice": false, "zero": false}, "axis": null},
            "y": {"field": "n", "type": "quantitative", "scale": {"domain": [0.1, 32.05], "nice": false, "zero": false}, "axis": null}
          }
        },
        {
          "data": {"name": "one"},
          "mark": {"type": "text", "text": "CMS", "fontSize": 96, "fontWeight": "bold", "align": "left", "baseline": "alphabetic"},
          "encoding": {
            "x": {"datum": 80.6, "type": "quantitative", "scale": {"domain": [76, 200], "nice": false, "zero": false}, "axis": null},
            "y": {"datum": 29.97, "type": "quantitative", "scale": {"domain": [0.1, 32.05], "nice": false, "zero": false}, "axis": null}
          }
        },
        {
          "data": {"name": "one"},
          "mark": {"type": "text", "text": "Preliminary", "fontSize": 86, "fontStyle": "italic", "align": "left", "baseline": "alphabetic"},
          "encoding": {
            "x": {"datum": 80.6, "type": "quantitative", "scale": {"domain": [76, 200], "nice": false, "zero": false}, "axis": null},
            "y": {"datum": 28.59, "type": "quantitative", "scale": {"domain": [0.1, 32.05], "nice": false, "zero": false}, "axis": null}
          }
        },
        {
          "data": {"name": "one"},
          "mark": {"type": "text", "text": "SR1, HP", "fontSize": 86, "fontStyle": "italic", "fontWeight": "bold", "align": "left", "baseline": "alphabetic"},
          "encoding": {
            "x": {"datum": 80.6, "type": "quantitative", "scale": {"domain": [76, 200], "nice": false, "zero": false}, "axis": null},
            "y": {"datum": 26.86, "type": "quantitative", "scale": {"domain": [0.1, 32.05], "nice": false, "zero": false}, "axis": null}
          }
        },
        {
          "data": {"name": "one"},
          "mark": {"type": "text", "text": "123 fb⁻¹\u00a0 (13 TeV)", "fontSize": 94, "align": "right", "baseline": "alphabetic", "dx": -7, "dy": -29},
          "encoding": {
            "x": {"datum": 200, "type": "quantitative", "scale": {"domain": [76, 200], "nice": false, "zero": false}, "axis": null},
            "y": {"datum": 32.05, "type": "quantitative", "scale": {"domain": [0.1, 32.05], "nice": false, "zero": false}, "axis": null}
          }
        }
      ]
    },
    {
      "width": 2614,
      "height": 442,
      "resolve": {"axis": {"x": "independent", "y": "independent"}},
      "layer": [
        {
          "data": {"name": "one"},
          "mark": {"type": "rule", "color": "black", "strokeWidth": 5, "strokeDash": [14, 20]},
          "encoding": {
            "y": {"datum": 0, "type": "quantitative", "scale": {"domain": [-5, 5], "nice": false, "zero": false}, "axis": null}
          }
        },
        {
          "data": {"name": "bins"},
          "mark": {"type": "rule", "color": "black", "strokeWidth": 4},
          "encoding": {
            "x": {"field": "x", "type": "quantitative", "scale": {"domain": [76, 200], "nice": false, "zero": false},
                  "axis": {"orient": "bottom", "values": [80, 100, 120, 140, 160, 180, 200], "ticks": false, "domain": true, "labelPadding": 14, "title": null}},
            "y": {"field": "plo", "type": "quantitative", "scale": {"domain": [-5, 5], "nice": false, "zero": false},
                  "axis": {"orient": "left", "values": [-4, -2, 0, 2, 4], "ticks": false, "domain": true, "labelPadding": 20, "labelFontSize": 84,
                           "title": "(Nᵈᵃᵗᵃ-Nᵇᵏᵍ)/σ", "titleAnchor": "end", "titlePadding": 86}},
            "y2": {"field": "phi"}
          }
        },
        {
          "data": {"name": "bins"},
          "mark": {"type": "tick", "orient": "horizontal", "color": "black", "size": 16, "thickness": 5, "opacity": 1},
          "encoding": {
            "x": {"field": "x", "type": "quantitative", "scale": {"domain": [76, 200], "nice": false, "zero": false},
                  "axis": {"orient": "bottom", "values": [80, 100, 120, 140, 160, 180, 200], "labels": false, "domain": false, "tickSize": 18, "offset": -18, "title": null}},
            "y": {"field": "plo", "type": "quantitative", "scale": {"domain": [-5, 5], "nice": false, "zero": false},
                  "axis": {"orient": "left", "values": [-4, -2, 0, 2, 4], "labels": false, "domain": false, "tickSize": 57, "offset": -57, "title": null}}
          }
        },
        {
          "data": {"name": "bins"},
          "mark": {"type": "tick", "orient": "horizontal", "color": "black", "size": 16, "thickness": 5, "opacity": 1},
          "encoding": {
            "x": {"field": "x", "type": "quantitative", "scale": {"domain": [76, 200], "nice": false, "zero": false},
                  "axis": {"orient": "bottom", "values": [80,85,90,95,100,105,110,115,120,125,130,135,140,145,150,155,160,165,170,175,180,185,190,195,200], "labels": false, "domain": false, "tickSize": 9, "offset": -9, "title": null}},
            "y": {"field": "phi", "type": "quantitative", "scale": {"domain": [-5, 5], "nice": false, "zero": false},
                  "axis": {"orient": "left", "values": [-4.5,-4,-3.5,-3,-2.5,-2,-1.5,-1,-0.5,0,0.5,1,1.5,2,2.5,3,3.5,4,4.5], "labels": false, "domain": false, "tickSize": 30, "offset": -30, "title": null}}
          }
        },
        {
          "data": {"name": "bins"},
          "mark": {"type": "circle", "color": "black", "size": 900, "opacity": 1},
          "encoding": {
            "x": {"field": "x", "type": "quantitative", "scale": {"domain": [76, 200], "nice": false, "zero": false},
                  "axis": {"orient": "top", "labels": false, "ticks": false, "domain": true, "title": null}},
            "y": {"field": "p", "type": "quantitative", "scale": {"domain": [-5, 5], "nice": false, "zero": false},
                  "axis": {"orient": "right", "labels": false, "ticks": false, "domain": true, "title": null}}
          }
        },
        {
          "data": {"name": "one"},
          "mark": {"type": "text", "text": "m", "fontSize": 106, "align": "left", "baseline": "alphabetic", "dx": -562, "dy": 226},
          "encoding": {
            "x": {"datum": 200, "type": "quantitative", "scale": {"domain": [76, 200], "nice": false, "zero": false},
                  "axis": {"orient": "top", "values": [80, 100, 120, 140, 160, 180, 200], "labels": false, "domain": false, "tickSize": 16, "offset": -16, "title": null}},
            "y": {"datum": -5, "type": "quantitative", "scale": {"domain": [-5, 5], "nice": false, "zero": false},
                  "axis": {"orient": "right", "values": [-4, -2, 0, 2, 4], "labels": false, "domain": false, "tickSize": 54, "offset": -54, "title": null}}
          }
        },
        {
          "data": {"name": "one"},
          "mark": {"type": "text", "text": "μμγ", "font": "Liberation Serif", "fontSize": 78, "align": "left", "baseline": "alphabetic", "dx": -472, "dy": 248},
          "encoding": {
            "x": {"datum": 200, "type": "quantitative", "scale": {"domain": [76, 200], "nice": false, "zero": false},
                  "axis": {"orient": "top", "values": [80,85,90,95,100,105,110,115,120,125,130,135,140,145,150,155,160,165,170,175,180,185,190,195,200], "labels": false, "domain": false, "tickSize": 8, "offset": -8, "title": null}},
            "y": {"datum": -5, "type": "quantitative", "scale": {"domain": [-5, 5], "nice": false, "zero": false},
                  "axis": {"orient": "right", "values": [-4.5,-4,-3.5,-3,-2.5,-2,-1.5,-1,-0.5,0,0.5,1,1.5,2,2.5,3,3.5,4,4.5], "labels": false, "domain": false, "tickSize": 27, "offset": -27, "title": null}}
          }
        },
        {
          "data": {"name": "one"},
          "mark": {"type": "text", "text": "(GeV)", "fontSize": 112, "align": "right", "baseline": "alphabetic", "dx": -5, "dy": 226},
          "encoding": {
            "x": {"datum": 200, "type": "quantitative", "scale": {"domain": [76, 200], "nice": false, "zero": false}, "axis": null},
            "y": {"datum": -5, "type": "quantitative", "scale": {"domain": [-5, 5], "nice": false, "zero": false}, "axis": null}
          }
        }
      ]
    }
  ]
}
